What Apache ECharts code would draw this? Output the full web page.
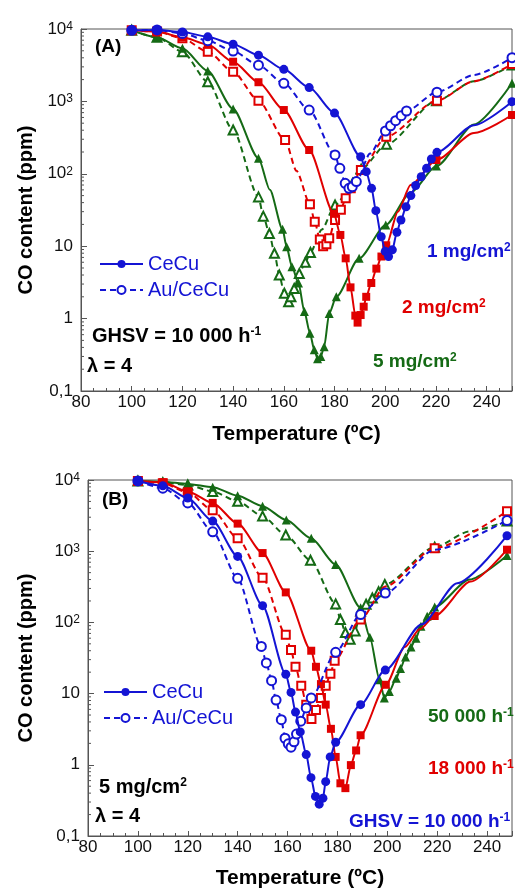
<!DOCTYPE html>
<html><head><meta charset="utf-8">
<script src="https://cdn.jsdelivr.net/npm/echarts@6/dist/echarts.min.js"></script>
<style>html,body{margin:0;padding:0;background:#fff}#c{width:515px;height:890px}</style>
</head><body><div id="c"></div>
<script>
// ---------- tick labels ----------
const xTickValues = [80, 100, 120, 140, 160, 180, 200, 220, 240];
const yTickValues = [0.1, 1, 10, 100, 1000, 10000];
const yTickLabels = ['0,1', '1', '10', '10{s|2}', '10{s|3}', '10{s|4}'];
const yMinorMantissas = [2, 3, 4, 5, 6, 7, 8, 9];

// ---------- panel (A): GHSV 10 000 h-1, catalyst loading ----------
// [T (ºC), CO (ppm)] ; a third entry 'c' marks a point read on the curve where no marker is drawn
const A_CeCu_1 = [[100,9600],[110,9700],[120,9100],[130,7800],[140,6150],[150,4350],[160,2770],[170,1550],[180,690],[190.3,172],[192.5,107],[194.6,63],[196.3,31],[198.4,13.5],[200,8.5],[201.3,7.2],[202.8,8.9],[204.6,15.6],[206.2,23],[208.2,35],[210.1,50],[212,69],[214.2,91],[216.3,119],[218.2,160],[220.4,198],[235,470,'c'],[250,990]];
const A_AuCeCu_1 = [[100,9600],[110,9700],[120,8700],[130,6900],[140,4960],[150,3160],[160,1780],[170,760],[180.2,182],[182.1,119],[184.2,74],[185.7,63],[187,66],[188.6,78],[194,190,'c'],[200.1,390],[202.1,461],[204.1,541],[206.3,635],[208.4,737],[220.4,1340],[235,2320,'c'],[250,4020]];
const A_CeCu_2 = [[100,9600],[110,9200],[120,7700],[130,6100],[140,3530],[150,1840],[160,760],[170,213],[179.8,28],[182.3,14.3],[184.4,6.8],[186.3,2.7],[188.2,1.1],[189.1,0.88],[190.3,1.12],[191.5,1.46],[192.5,2.0],[194.5,3.1],[196.5,4.9],[198.5,7.2],[200.4,10.3],[205,30,'c'],[210,70,'c'],[220.2,155],[235,365,'c'],[250,649]];
const A_AuCeCu_2 = [[100,9600],[110,9200],[120,7430],[130,4850],[140,2570],[150,1023],[160.5,293],[165,110,'c'],[170.3,38],[172.2,21.8],[174.2,12.4],[175.5,10],[176.8,10.6],[177.9,12.9],[180.2,23],[182.5,32],[184.4,46],[186.4,63],[190.4,113],[200.4,325],[220.4,1023],[235,1900,'c'],[250,3290]];
const A_CeCu_5 = [[100,9600],[110,7680],[120,5410],[130,2630],[140,785],[150,164],[154.5,60,'c'],[159.5,17.1],[161.1,9.8],[163.2,5.2],[165.8,3.1],[168.1,1.25],[170.3,0.63],[172,0.37],[173.3,0.28],[174.6,0.3],[175.9,0.41],[177.9,1.18],[180.7,2.0],[189.7,6.8],[200.2,19.6],[210,55,'c'],[220.2,128],[235,480,'c'],[250,1780]];
const A_AuCeCu_5 = [[100,9600],[110,7680],[120,4850],[130,1870],[140,403],[150,48],[151.9,26],[154.3,15],[156.3,8],[158.2,4.0],[160.2,2.24],[161.9,1.71],[162.8,2.0],[164.1,2.6],[166.1,4.2],[168.5,6.0],[170.5,8.2],[175,17,'c'],[180.2,37],[190.5,116],[200.5,255],[220.2,1023],[235,1900,'c'],[250,3190]];

// ---------- panel (B): 5 mg/cm2, GHSV ----------
const B_CeCu_10 = [[100,9700],[110,8300],[120,5580],[130,2650],[140,845],[150,172],[159.3,18.7],[161.4,10.4],[163.2,5.5],[165.1,2.9],[167.5,1.39],[169.4,0.66],[171.2,0.36],[172.7,0.28],[174.2,0.34],[175.3,0.58],[177.1,1.29],[179.3,2.07],[189.3,7.0],[199.2,21.4],[213.8,94,'c'],[228,355,'c'],[248,1650]];
const B_AuCeCu_10 = [[100,9700],[110,7680],[120,4770],[130,1870],[140,416],[149.5,46],[151.5,27],[153.6,15.2],[155.4,8.1],[157.5,4.3],[159,2.36],[160.3,1.97],[161.4,1.77],[162.6,2.1],[163.6,2.7],[165.3,4.1],[167.5,6.3],[169.5,8.7],[179.3,38],[189.3,129],[199.2,258],[219,1050,'c'],[248,2700]];
const B_CeCu_18 = [[100,9700],[110,9300],[120,6900],[130,4770],[140,2440],[150,942],[159.3,264],[169.5,40],[171.4,23.8],[173.4,13.6],[175.3,7.0],[177.4,3.2],[179.3,1.29],[181.2,0.55],[183.2,0.47],[185.4,0.99],[187.5,1.59],[189.3,2.6],[199.4,13.3],[207,45,'c'],[213,80,'c'],[219,123],[233.4,374,'c'],[248,1050]];
const B_AuCeCu_18 = [[100,9700],[110,9000],[120,6680],[130,3770],[140,1517],[150,425],[159.3,67],[161.4,41],[163.2,23.8],[165.5,12.9],[167.5,7.0],[169.6,4.4],[171.4,5.9],[173.4,8.7],[175.3,12.9],[177.2,19],[178.9,29],[189.3,110],[199.2,320,'c'],[219,1104],[248,3650]];
const B_CeCu_50 = [[100,9700],[110,9480],[120,8810],[130,7930],[140,6010],[150,4280],[159.5,2740],[169.5,1517],[179.3,649],[189.3,160],[193,62],[196.9,15.6],[198.8,8.7],[200.8,10.7],[203.6,16.4],[205.3,22.5],[207.3,32.7],[209.5,45],[211.5,60],[213.5,88],[216,122],[219,165],[233,400,'c'],[248,870]];
const B_AuCeCu_50 = [[100,9700],[110,9180],[120,8530],[130,6900],[140,5010],[150,3110],[159.3,1690],[169.2,745],[179.3,182],[181.2,110],[183.2,72],[185.1,58],[187.1,76],[189.3,144],[191.5,180],[194,220],[196.5,270],[199,340],[219,1140],[233,1900,'c'],[248,2650]];

// ---------- styling ----------
const BLUE = '#1414d4', RED = '#e00000', GREEN = '#156a15', AXC = '#555';
const FF = '"Liberation Sans", Arial, sans-serif';

const chart = echarts.init(document.getElementById('c'), null, {renderer: 'canvas'});

function line(name, pts, color, shape, filled, dashed, gi, z) {
  return {
    type: 'line', name: name, xAxisIndex: gi, yAxisIndex: gi, z: z,
    data: pts.map(p => p[2] === 'c' ? {value: [p[0], p[1]], symbol: 'none'} : [p[0], p[1]]),
    smooth: 0.25, smoothMonotone: 'x',
    symbol: filled ? shape : 'empty' + shape.charAt(0).toUpperCase() + shape.slice(1),
    symbolSize: shape === 'rect' ? 8 : 9,
    showAllSymbol: true,
    lineStyle: {color: color, width: 2, type: dashed ? [6, 4] : 'solid'},
    itemStyle: {color: color, borderColor: color, borderWidth: filled ? 0 : 1.2},
    emphasis: {disabled: true}, animation: false
  };
}

const minorVals = [];
yTickValues.slice(0, 5).forEach(d => yMinorMantissas.forEach(m => minorVals.push(+(d * m).toPrecision(3))));

function minorTicks(gi) {
  return {
    type: 'custom', xAxisIndex: gi, yAxisIndex: gi, silent: true, z: 5, animation: false,
    data: minorVals.map(v => [80, v]),
    renderItem: function (params, api) {
      const p = api.coord([api.value(0), api.value(1)]);
      return {type: 'line', shape: {x1: p[0], y1: p[1], x2: p[0] + 3, y2: p[1]}, style: {stroke: AXC, lineWidth: 1}};
    }
  };
}

function xAxis(gi) {
  return {
    type: 'value', gridIndex: gi, min: 80, max: 250, interval: 20,
    name: 'Temperature (ºC)', nameLocation: 'middle', nameGap: gi === 0 ? 33 : 32,
    nameTextStyle: {fontSize: 21, fontWeight: 'bold', fontFamily: FF, color: '#000'},
    axisLine: {show: true, lineStyle: {color: AXC, width: 1}},
    axisTick: {show: true, inside: true, length: 5, lineStyle: {color: AXC}},
    minorTick: {show: true, splitNumber: 4, length: 3, lineStyle: {color: AXC}},
    splitLine: {show: false},
    axisLabel: {fontSize: 17, fontFamily: FF, color: '#111', margin: 3,
      formatter: v => xTickValues.indexOf(v) >= 0 ? String(v) : ''}
  };
}

function yAxis(gi) {
  return {
    type: 'log', gridIndex: gi, logBase: 10, min: 0.1, max: 10000,
    name: 'CO content (ppm)', nameLocation: 'middle', nameGap: gi === 0 ? 45 : 52,
    nameTextStyle: {fontSize: 20, fontWeight: 'bold', fontFamily: FF, color: '#000'},
    axisLine: {show: true, lineStyle: {color: AXC, width: 1}},
    axisTick: {show: true, inside: true, length: 6, lineStyle: {color: AXC}},
    splitLine: {show: false},
    axisLabel: {fontSize: 17, fontFamily: FF, color: '#111', margin: 8,
      formatter: function (v) {
        const i = Math.round(Math.log10(v)) + 1;
        return yTickLabels[i] !== undefined ? yTickLabels[i] : '';
      },
      rich: {s: {fontSize: 12, fontFamily: FF, color: '#111', verticalAlign: 'top', lineHeight: 12}}
    }
  };
}

function txt(left, top, base, sup, color, size) {
  const t = sup ? base + '{s|' + sup + '}' : base;
  return {
    type: 'text', left: left, top: top, z: 50,
    style: {
      text: t, fill: color, font: 'bold ' + size + 'px ' + FF,
      rich: {s: {fontSize: Math.round(size * 0.62), fontWeight: 'bold', fontFamily: FF, fill: color, verticalAlign: 'top'}}
    }
  };
}

const legendBase = {
  data: ['CeCu', 'Au/CeCu'], orient: 'vertical', itemWidth: 43, itemHeight: 10, itemGap: 6, itemTextGap: 5,
  padding: 0, textStyle: {color: BLUE, fontSize: 20, fontFamily: FF}, selectedMode: false
};

const option = {
  backgroundColor: '#fff',
  animation: false,
  grid: [
    {left: 81, top: 29, right: 2, bottom: 499, show: true, borderColor: AXC, borderWidth: 1, containLabel: false},
    {left: 88, top: 480, right: -8, bottom: 48, show: true, borderColor: AXC, borderWidth: 1, containLabel: false}
  ],
  xAxis: [xAxis(0), xAxis(1)],
  yAxis: [yAxis(0), yAxis(1)],
  legend: [
    Object.assign({}, legendBase, {left: 99, top: 254}),
    Object.assign({}, legendBase, {left: 103, top: 682})
  ],
  series: [
    line('CeCu', A_CeCu_1, BLUE, 'circle', true, false, 0, 10),
    line('Au/CeCu', A_AuCeCu_1, BLUE, 'circle', false, true, 0, 9),
    line('CeCu 2 mg', A_CeCu_2, RED, 'rect', true, false, 0, 8),
    line('Au/CeCu 2 mg', A_AuCeCu_2, RED, 'rect', false, true, 0, 7),
    line('CeCu 5 mg', A_CeCu_5, GREEN, 'triangle', true, false, 0, 6),
    line('Au/CeCu 5 mg', A_AuCeCu_5, GREEN, 'triangle', false, true, 0, 5),
    line('CeCu', B_CeCu_10, BLUE, 'circle', true, false, 1, 10),
    line('Au/CeCu', B_AuCeCu_10, BLUE, 'circle', false, true, 1, 9),
    line('CeCu 18000', B_CeCu_18, RED, 'rect', true, false, 1, 8),
    line('Au/CeCu 18000', B_AuCeCu_18, RED, 'rect', false, true, 1, 7),
    line('CeCu 50000', B_CeCu_50, GREEN, 'triangle', true, false, 1, 6),
    line('Au/CeCu 50000', B_AuCeCu_50, GREEN, 'triangle', false, true, 1, 5),
    minorTicks(0), minorTicks(1)
  ],
  graphic: [
    txt(95, 37, '(A)', null, '#000', 19),
    txt(92, 326, 'GHSV = 10 000 h', '-1', '#000', 20),
    txt(87, 356, 'λ = 4', null, '#000', 20),
    txt(427, 242, '1 mg/cm', '2', BLUE, 19),
    txt(402, 298, '2 mg/cm', '2', RED, 19),
    txt(373, 352, '5 mg/cm', '2', GREEN, 19),
    txt(102, 490, '(B)', null, '#000', 19),
    txt(99, 777, '5 mg/cm', '2', '#000', 20),
    txt(95, 806, 'λ = 4', null, '#000', 20),
    txt(428, 707, '50 000 h', '-1', GREEN, 19),
    txt(428, 759, '18 000 h', '-1', RED, 19),
    txt(349, 812, 'GHSV = 10 000 h', '-1', BLUE, 19)
  ]
};
chart.setOption(option);
</script>
</body></html>
